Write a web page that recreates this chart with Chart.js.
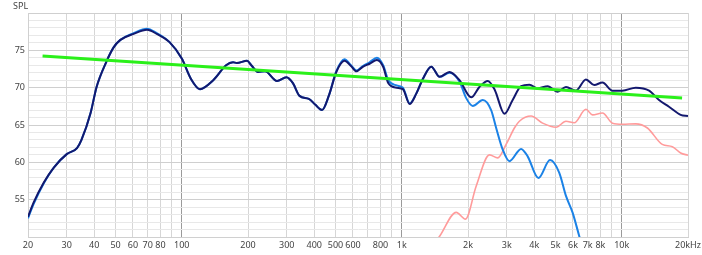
<!DOCTYPE html>
<html>
<head>
<meta charset="utf-8">
<script src="https://cdn.jsdelivr.net/npm/chart.js@4.4.1/dist/chart.umd.min.js"></script>
<style>
  html, body { margin: 0; padding: 0; background: #fff; }
  #wrap { width: 702px; height: 255px; position: relative; }
</style>
</head>
<body>
<div id="wrap"><canvas id="spl"></canvas></div>
<script>
// frequency response, values
const navyFreq = [20, 21.2, 23.6, 26.2, 30, 33.4, 35, 38.5, 41, 45.3, 49, 52.6, 60.4, 69.5, 77, 88, 100, 110, 121, 139, 159, 171, 178, 198, 207, 222, 239, 271, 299, 320, 343, 378, 405, 434, 467, 504, 549, 588, 622, 665, 714, 771, 823, 869, 948, 1012, 1086, 1164, 1248, 1362, 1486, 1648, 1830, 2068, 2254, 2460, 2647, 2929, 3192, 3486, 3802, 4147, 4603, 5110, 5576, 6190, 6872, 7496, 8170, 9072, 10070, 11580, 13310, 14770, 16390, 18520, 20000];
const navySpl  = [52.7, 54.6, 57.3, 59.3, 61.1, 61.9, 63.0, 66.6, 70.1, 73.4, 75.4, 76.4, 77.2, 77.75, 77.2, 76.1, 73.9, 71.2, 69.8, 71.0, 73.0, 73.4, 73.3, 73.6, 73.0, 72.1, 72.2, 70.9, 71.4, 70.6, 68.9, 68.5, 67.7, 67.0, 69.0, 72.1, 73.6, 72.9, 72.2, 72.8, 73.2, 73.7, 72.8, 70.6, 70.0, 69.8, 67.8, 69.2, 71.2, 72.8, 71.45, 72.1, 71.0, 68.7, 70.1, 70.9, 69.7, 66.5, 68.35, 70.2, 70.4, 69.9, 70.2, 69.45, 70.1, 69.6, 71.1, 70.35, 70.7, 69.6, 69.6, 70.0, 69.6, 68.35, 67.45, 66.35, 66.2];

const blueFreq = [20, 21.2, 23.6, 26.2, 30, 33.4, 35, 38.5, 41, 45.3, 49, 52.6, 60.4, 69.5, 77, 88, 100, 110, 121, 139, 159, 171, 178, 198, 207, 222, 239, 271, 299, 320, 343, 378, 405, 434, 467, 504, 549, 588, 622, 665, 714, 771, 823, 869, 948, 1012, 1086, 1164, 1248, 1362, 1486, 1648, 1830, 1963, 2102, 2334, 2548, 2686, 2877, 3084, 3486, 3734, 4178, 4720, 5200, 5576, 5972, 6410, 6800];
const blueSpl  = [52.5, 54.4, 57.2, 59.3, 61.1, 61.9, 63.0, 66.6, 70.1, 73.4, 75.4, 76.4, 77.3, 77.9, 77.3, 76.1, 73.9, 71.2, 69.8, 71.0, 73.0, 73.4, 73.3, 73.6, 73.0, 72.1, 72.2, 70.9, 71.4, 70.6, 68.9, 68.5, 67.7, 67.0, 69.0, 72.2, 73.8, 73.0, 72.3, 72.9, 73.4, 74.0, 73.0, 71.0, 70.3, 70.0, 67.9, 69.2, 71.2, 72.8, 71.45, 72.0, 70.8, 68.6, 67.55, 68.35, 67.0, 64.6, 61.7, 60.15, 61.8, 60.8, 57.9, 60.3, 58.6, 55.5, 53.3, 50.1, 47.5];

const pinkFreq = [1380, 1486, 1768, 1948, 2178, 2504, 2730, 2980, 3250, 3424, 3870, 4366, 5024, 5576, 6080, 6872, 7360, 8170, 9072, 10070, 11580, 13080, 15280, 16980, 18520, 20000];
const pinkSpl  = [48.8, 50.1, 53.3, 52.4, 56.8, 61.0, 60.6, 62.4, 64.6, 65.5, 66.2, 65.25, 64.7, 65.5, 65.3, 67.1, 66.35, 66.6, 65.25, 65.1, 65.15, 64.6, 62.4, 62.1, 61.25, 60.95];

// target slope line
const trendFreq = [23.3, 18800];
const trendSpl  = [74.25, 68.6];

const xTicks = [20, 30, 40, 50, 60, 70, 80, 90, 100, 200, 300, 400, 500, 600, 700, 800, 900, 1000, 2000, 3000, 4000, 5000, 6000, 7000, 8000, 9000, 10000, 20000];
const xLabels = {20: '20', 30: '30', 40: '40', 50: '50', 60: '60', 70: '70', 80: '80', 100: '100', 200: '200', 300: '300', 400: '400', 500: '500', 600: '600', 800: '800', 1000: '1k', 2000: '2k', 3000: '3k', 4000: '4k', 5000: '5k', 6000: '6k', 7000: '7k', 8000: '8k', 10000: '10k', 20000: '20kHz'};
const yLabels = [55, 60, 65, 70, 75];

const toPoints = (fs, vs) => fs.map((f, i) => ({x: f, y: vs[i]}));

const tickFont = {family: 'Noto Sans, sans-serif', size: 9};

// small "SPL" caption over the y axis
const splTitle = {
    id: 'splTitle',
    afterDraw(chart) {
        const ctx = chart.ctx;
        ctx.save();
        ctx.font = '9px "Noto Sans", sans-serif';
        ctx.fillStyle = '#444';
        ctx.textBaseline = 'middle';
        ctx.fillText('SPL', 13, 6);
        ctx.restore();
    }
};

new Chart(document.getElementById('spl').getContext('2d'), {
    type: 'line',
    data: {
        datasets: [
            {
                label: 'trend',
                data: toPoints(trendFreq, trendSpl),
                borderColor: '#2bf01a',
                borderWidth: 3,
                pointRadius: 0,
                order: 0
            },
            {
                label: 'total',
                data: toPoints(navyFreq, navySpl),
                borderColor: '#13186e',
                borderWidth: 2,
                pointRadius: 0,
                cubicInterpolationMode: 'monotone',
                order: 1
            },
            {
                label: 'woofer',
                data: toPoints(blueFreq, blueSpl),
                borderColor: '#1b82e6',
                borderWidth: 2,
                pointRadius: 0,
                cubicInterpolationMode: 'monotone',
                order: 2
            },
            {
                label: 'tweeter',
                data: toPoints(pinkFreq, pinkSpl),
                borderColor: '#ff9b9b',
                borderWidth: 1.6,
                pointRadius: 0,
                cubicInterpolationMode: 'monotone',
                order: 3
            }
        ]
    },
    options: {
        responsive: true,
        maintainAspectRatio: false,
        animation: false,
        parsing: false,
        layout: {padding: {top: 13, right: 14, left: 0, bottom: 0}},
        plugins: {
            legend: {display: false},
            tooltip: {enabled: false}
        },
        scales: {
            x: {
                type: 'logarithmic',
                min: 20,
                max: 20000,
                afterBuildTicks: scale => {
                    scale.ticks = xTicks.map(v => ({value: v}));
                },
                afterFit: scale => {
                    scale.height = 18;
                    scale.paddingLeft = 0;
                    scale.paddingRight = 0;
                },
                ticks: {
                    autoSkip: false,
                    maxRotation: 0,
                    padding: 3,
                    color: '#444',
                    font: tickFont,
                    callback: value => xLabels[value] || ''
                },
                grid: {
                    drawTicks: false,
                    color: ctx => {
                        const v = ctx.tick && ctx.tick.value;
                        return (v === 100 || v === 1000 || v === 10000) ? '#9a9a9a' : '#d6d6d6';
                    }
                },
                border: {display: true, color: '#d0d0d0'}
            },
            y: {
                min: 50,
                max: 80,
                afterFit: scale => {
                    scale.width = 28;
                    scale.paddingTop = 0;
                    scale.paddingBottom = 0;
                },
                ticks: {
                    stepSize: 1,
                    autoSkip: false,
                    padding: 3,
                    color: '#444',
                    font: tickFont,
                    callback: value => yLabels.includes(value) ? String(value) : ''
                },
                grid: {
                    drawTicks: false,
                    color: ctx => {
                        const v = ctx.tick && ctx.tick.value;
                        return v % 5 === 0 ? '#cfcfcf' : '#e8e8e8';
                    }
                },
                border: {display: true, color: '#d0d0d0'}
            }
        }
    },
    plugins: [splTitle]
});
</script>
</body>
</html>
